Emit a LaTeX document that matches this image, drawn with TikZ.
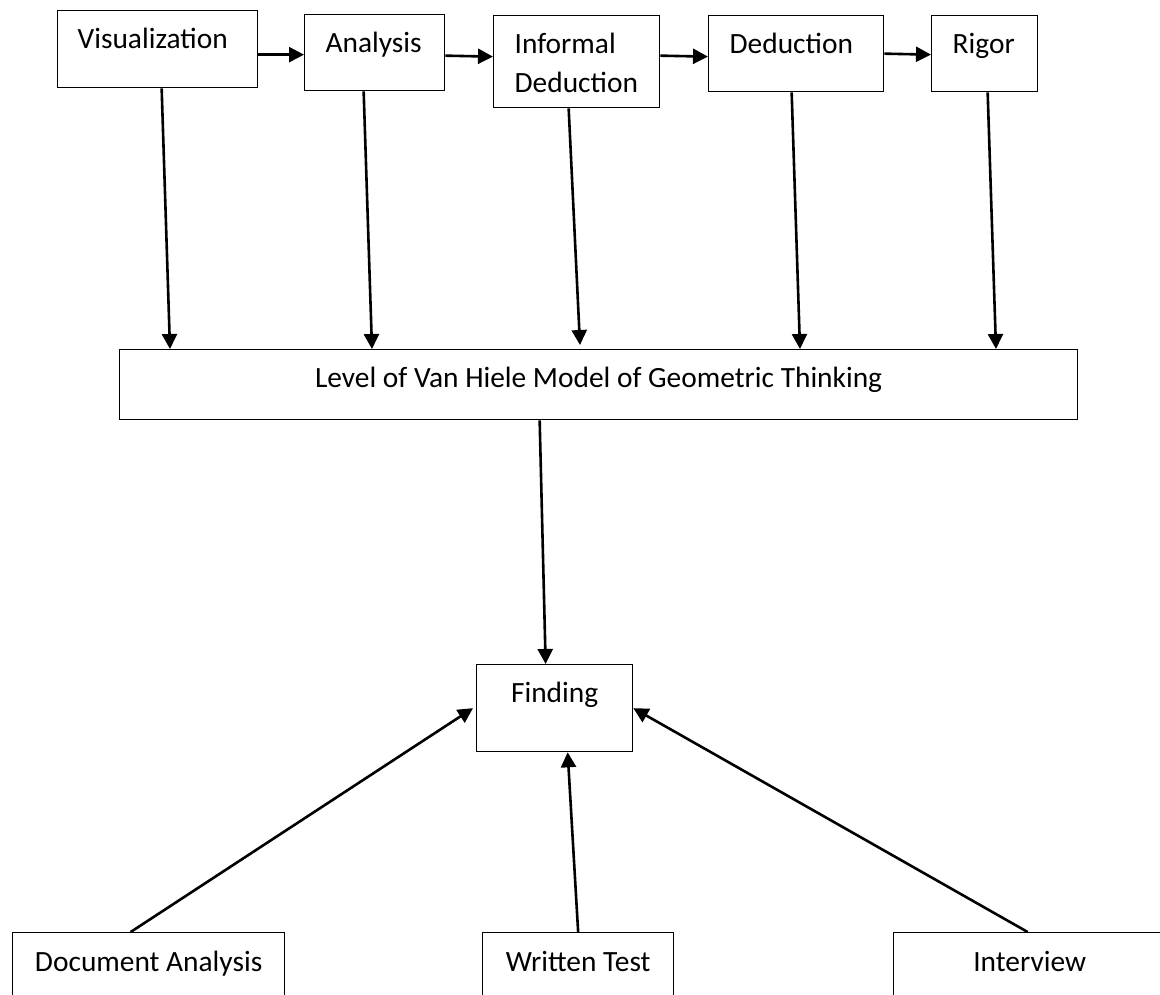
\documentclass[tikz,border=0pt]{standalone}
\usepackage{fontspec}
\setmainfont{Carlito}
\usetikzlibrary{arrows.meta}
\newcommand\lbox[3]{\makebox[#1][l]{\hspace*{#2}#3}}
\newcommand\cbox[2]{\makebox[#1][c]{#2}}
\begin{document}
\begin{tikzpicture}[x=1pt,y=-1pt,
  box/.style={draw, line width=1.3pt, anchor=north west, inner sep=0pt,
    font=\fontsize{29.4pt}{39pt}\selectfont},
  arr/.style={line width=2.6pt, -{Triangle[length=15pt,width=15pt]}}]
\useasboundingbox (0,0) rectangle (1160,994);
\clip (0,0) rectangle (1160,994);
\fill[white] (0,0) rectangle (1160,994);
% top row
\node[box, text height=38pt, text depth=39pt] (vis) at (57,10) {\lbox{200pt}{20pt}{Visualization}};
\node[box, text height=38pt, text depth=38pt] (ana) at (304,14) {\lbox{140pt}{21pt}{Analysis}};
\node[box, text height=38pt, text depth=54pt] (inf) at (493,15) {\lbox{166pt}{21pt}{\vtop{\hbox{Informal}\hbox{Deduction}}}};
\node[box, text height=38pt, text depth=38pt] (ded) at (708,15) {\lbox{175pt}{21pt}{Deduction}};
\node[box, text height=38pt, text depth=38pt] (rig) at (931,15) {\lbox{106pt}{21pt}{Rigor}};
% middle
\node[box, text height=38pt, text depth=32pt] (lvl) at (119,349) {\cbox{958pt}{Level of Van Hiele Model of Geometric Thinking}};
\node[box, text height=38pt, text depth=49pt] (fin) at (476,664) {\cbox{156pt}{Finding}};
% bottom row
\node[box, text height=39pt, text depth=40pt] (doc) at (12,932) {\cbox{272pt}{Document Analysis}};
\node[box, text height=39pt, text depth=40pt] (wri) at (482,932) {\cbox{191pt}{Written Test}};
\node[box, text height=39pt, text depth=40pt] (int) at (893,932) {\cbox{272pt}{Interview}};
% horizontal arrows
\draw[arr] ([yshift=-5.5pt]vis.east) -- ([yshift=-2pt]ana.west);
\draw[arr] ([yshift=-3pt]ana.east) -- ([yshift=5pt]inf.west);
\draw[arr] ([yshift=6pt]inf.east) -- ([yshift=-3pt]ded.west);
\draw[arr] (ded.east) -- ([yshift=-1pt]rig.west);
% down to level box
\draw[arr] ([xshift=4pt]vis.south) -- ([xshift=51pt]lvl.north west);
\draw[arr] ([xshift=-11pt]ana.south) -- ([xshift=253pt]lvl.north west);
\draw[arr] ([xshift=-8pt]inf.south) -- ([xshift=461pt,yshift=4pt]lvl.north west);
\draw[arr] ([xshift=-4.5pt]ded.south) -- ([xshift=681pt]lvl.north west);
\draw[arr] ([xshift=3pt]rig.south) -- ([xshift=877pt]lvl.north west);
% level to finding
\draw[arr] ([xshift=-59pt]lvl.south) -- ([xshift=-9pt]fin.north);
% bottom to finding
\draw[arr] ([xshift=-18pt]doc.north) -- ([xshift=-3pt]fin.west);
\draw[arr] (wri.north) -- ([xshift=13pt]fin.south);
\draw[arr] ([xshift=-2pt]int.north) -- (fin.east);
\end{tikzpicture}
\end{document}
